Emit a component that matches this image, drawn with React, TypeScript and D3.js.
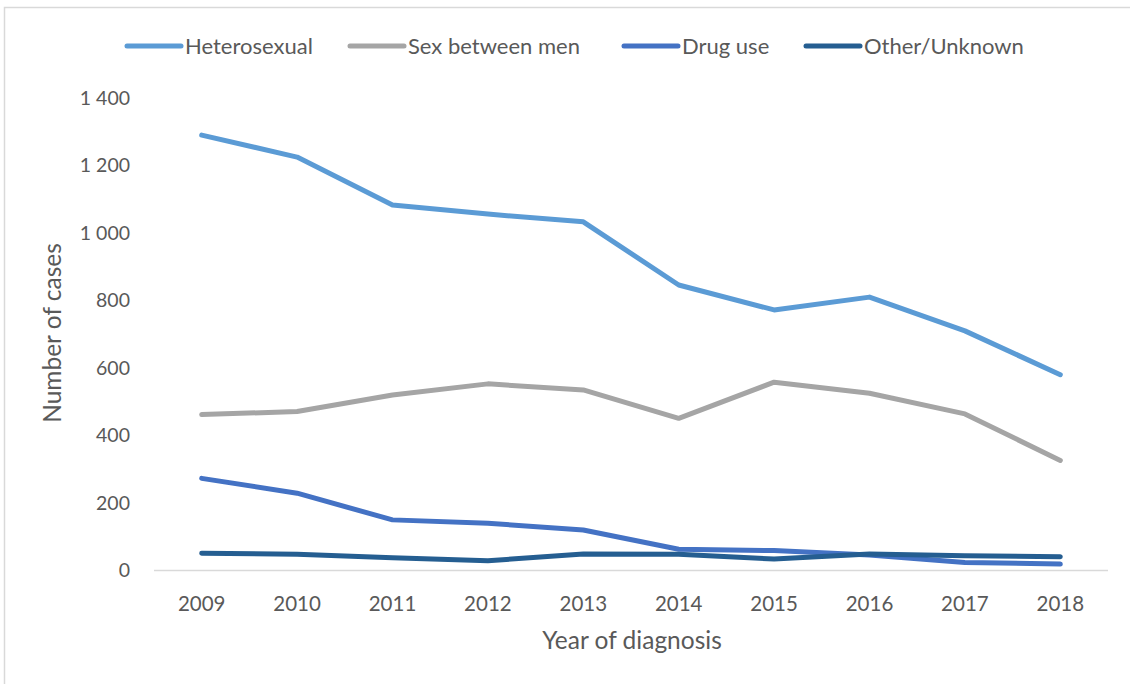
import React from "react";
import * as d3 from "d3";

// Diagnoses per year, split by transmission route
const years = ["2009", "2010", "2011", "2012", "2013", "2014", "2015", "2016", "2017", "2018"];
const heterosexual = [1290, 1225, 1083, 1056, 1033, 846, 772, 810, 710, 580];
const sexBetweenMen = [462, 471, 520, 553, 535, 451, 558, 525, 464, 326];
const drugUse = [273, 229, 150, 140, 120, 63, 59, 46, 24, 19];
const otherUnknown = [51, 48, 38, 29, 49, 48, 34, 49, 44, 41];
const seriesNames = ["Heterosexual", "Sex between men", "Drug use", "Other/Unknown"];
const yTicks = [0, 200, 400, 600, 800, 1000, 1200, 1400];

const W = 1130;
const H = 684;
const FONT = "Lato, 'Open Sans', sans-serif";
const TEXT = "#595959";
const COLORS = ["#5B9BD5", "#A5A5A5", "#4472C4", "#255E91"];

const fmt = d3
  .formatLocale({ decimal: ".", thousands: " ", grouping: [3], currency: ["", ""] })
  .format(",");

export default function App() {
  const series = [heterosexual, sexBetweenMen, drugUse, otherUnknown];
  const x = d3.scalePoint<string>().domain(years).range([154, 1108]).padding(0.5);
  const y = d3.scaleLinear().domain([0, 1400]).range([570.5, 98]);
  const line = d3
    .line<number>()
    .x((_, i) => x(years[i]) as number)
    .y((d) => y(d));

  // legend layout: label start of each entry; the swatch sits just left of it
  const legendLabelX = [185, 408, 682, 864];
  const swatchLen = 54;
  const swatchGap = 4;

  return (
    <>
      <style>{"html,body{margin:0;overflow:hidden;background:#fff}"}</style>
      <svg
        width={W}
        height={H}
        style={{ position: "fixed", left: 0, top: 0, background: "#fff", display: "block" }}
        fontFamily={FONT}
      >
        {/* outer chart frame, running past the right and bottom edges */}
        <path d={`M4.5,${H + 10}V7.5H${W + 10}`} fill="none" stroke="#D9D9D9" strokeWidth={1.5} />

        {/* legend */}
        {seriesNames.map((name, i) => (
          <g key={name}>
            <line
              x1={legendLabelX[i] - swatchGap - swatchLen}
              x2={legendLabelX[i] - swatchGap}
              y1={46}
              y2={46}
              stroke={COLORS[i]}
              strokeWidth={5}
              strokeLinecap="round"
            />
            <text x={legendLabelX[i]} y={54} fontSize={22} fill={TEXT}>
              {name}
            </text>
          </g>
        ))}

        {/* y axis labels */}
        {yTicks.map((t) => (
          <text key={t} x={130} y={y(t)} dy="0.35em" textAnchor="end" fontSize={19.5} fill={TEXT}>
            {fmt(t)}
          </text>
        ))}

        {/* baseline */}
        <line x1={154} x2={1108} y1={y(0)} y2={y(0)} stroke="#D9D9D9" strokeWidth={1.5} />

        {/* x axis labels */}
        {years.map((yr) => (
          <text key={yr} x={x(yr)} y={611} textAnchor="middle" fontSize={20.5} fill={TEXT}>
            {yr}
          </text>
        ))}

        {/* series lines */}
        {series.map((s, i) => (
          <path
            key={seriesNames[i]}
            d={line(s) as string}
            fill="none"
            stroke={COLORS[i]}
            strokeWidth={5}
            strokeLinejoin="round"
            strokeLinecap="round"
          />
        ))}

        {/* axis titles */}
        <text x={632} y={649} textAnchor="middle" fontSize={24.5} fill={TEXT}>
          Year of diagnosis
        </text>
        <text
          transform={`translate(52,${333}) rotate(-90)`}
          dy="0.35em"
          textAnchor="middle"
          fontSize={24.5}
          fill={TEXT}
        >
          Number of cases
        </text>
      </svg>
    </>
  );
}
